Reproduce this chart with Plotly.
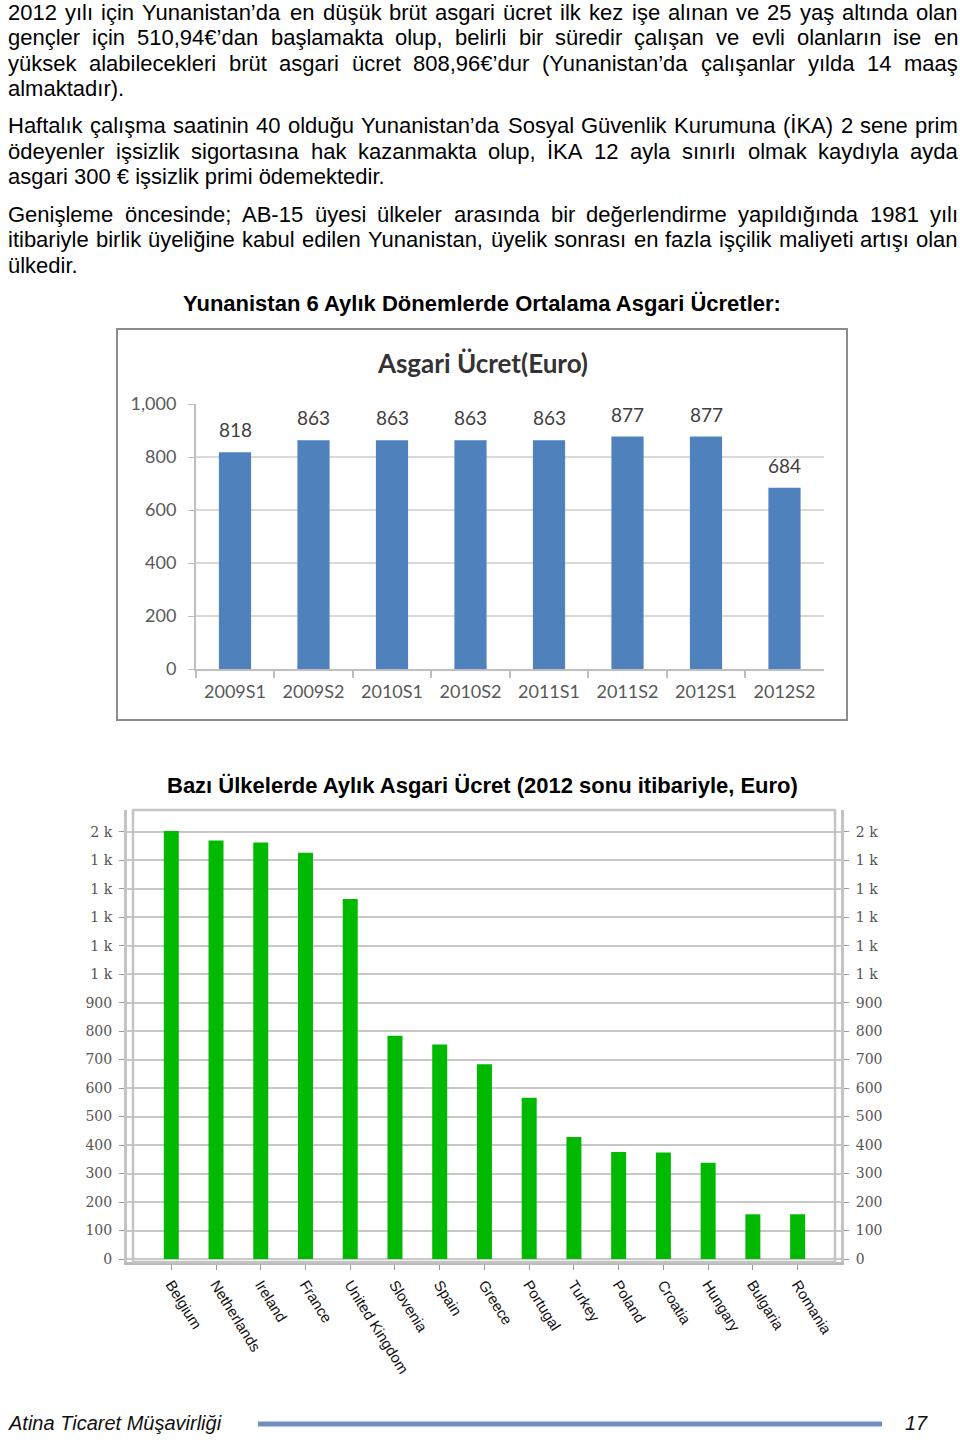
import plotly.graph_objects as go

W, H = 960, 1442

# ---------------- data ----------------
periods = ["2009S1", "2009S2", "2010S1", "2010S2", "2011S1", "2011S2", "2012S1", "2012S2"]
wages_gr = [818, 863, 863, 863, 863, 877, 877, 684]
gr_tickvals = [0, 200, 400, 600, 800, 1000]

countries = ["Belgium", "Netherlands", "Ireland", "France", "United Kingdom", "Slovenia",
             "Spain", "Greece", "Portugal", "Turkey", "Poland", "Croatia", "Hungary",
             "Bulgaria", "Romania"]
wages_eu = [1502, 1469, 1462, 1426, 1264, 784, 753, 684, 566, 428, 376, 374, 338, 157, 157]
eu_tickvals = [0, 100, 200, 300, 400, 500, 600, 700, 800, 900, 1000, 1100, 1200, 1300, 1400, 1500]
eu_ticktext = ["0", "100", "200", "300", "400", "500", "600", "700", "800", "900",
               "1 k", "1 k", "1 k", "1 k", "1 k", "2 k"]

paragraphs = [
    ["2012 yılı için Yunanistan’da en düşük brüt asgari ücret ilk kez işe alınan ve 25 yaş altında olan",
     "gençler için 510,94€’dan başlamakta olup, belirli bir süredir çalışan ve evli olanların ise en",
     "yüksek alabilecekleri brüt asgari ücret 808,96€’dur (Yunanistan’da çalışanlar yılda 14 maaş",
     "almaktadır)."],
    ["Haftalık çalışma saatinin 40 olduğu Yunanistan’da Sosyal Güvenlik Kurumuna (İKA) 2 sene prim",
     "ödeyenler işsizlik sigortasına hak kazanmakta olup, İKA 12 ayla sınırlı olmak kaydıyla ayda",
     "asgari 300 € işsizlik primi ödemektedir."],
    ["Genişleme öncesinde; AB-15 üyesi ülkeler arasında bir değerlendirme yapıldığında 1981 yılı",
     "itibariyle birlik üyeliğine kabul edilen Yunanistan, üyelik sonrası en fazla işçilik maliyeti artışı olan",
     "ülkedir."],
]
para_tops = [12.5, 126.0, 214.5]
heading1 = "Yunanistan 6 Aylık Dönemlerde Ortalama Asgari Ücretler:"
heading2 = "Bazı Ülkelerde Aylık Asgari Ücret (2012 sonu itibariyle, Euro)"
chart1_title = "Asgari Ücret(Euro)"
footer_left = "Atina Ticaret Müşavirliği"
footer_page = "17"


def px(x):
    return x / W


def py(y):
    return 1 - y / H


# Arial / Liberation Sans advance widths (per 1000 em)
AW = {" ": 278, "(": 333, ")": 333, ",": 278, "-": 333, ".": 278, ":": 278, ";": 278,
      "€": 556, "’": 222}
for c in "0123456789":
    AW[c] = 556
AW.update(dict(a=556, b=556, c=500, d=556, e=556, f=278, g=556, h=556, i=222, j=222, k=500,
               l=222, m=833, n=556, o=556, p=556, q=556, r=333, s=500, t=278, u=556, v=500,
               w=722, x=500, y=500, z=500))
AW.update(dict(A=667, B=667, C=722, D=722, E=667, F=611, G=778, H=722, I=278, J=500, K=667,
               L=556, M=833, N=722, O=778, P=667, Q=778, R=722, S=667, T=611, U=722, V=667,
               W=944, X=667, Y=667, Z=611))
AW.update({"ı": 278, "ş": 500, "ğ": 556, "ü": 556, "ö": 556, "ç": 500, "İ": 278, "Ü": 722,
           "Ö": 778, "Ç": 722, "Ş": 667, "Ğ": 778})

FS = 22
TXT_FONT = dict(family="Liberation Sans, Arial", size=FS, color="#000000")


def tw(s):
    return sum(AW.get(ch, 556) for ch in s) / 1000.0 * FS


fig = go.Figure()

annotations = []


def add_line(text, yc, justify, left=7, right=957):
    words = text.split(" ")
    if not justify or len(words) == 1:
        annotations.append(dict(text=text, x=px(left), y=py(yc), xref="paper", yref="paper",
                                xanchor="left", yanchor="middle", showarrow=False,
                                borderpad=0, font=TXT_FONT))
        return
    total = sum(tw(w) for w in words)
    gap = (right - left - total) / (len(words) - 1)
    x = left
    for w in words:
        annotations.append(dict(text=w, x=px(x), y=py(yc), xref="paper", yref="paper",
                                xanchor="left", yanchor="middle", showarrow=False,
                                borderpad=0, font=TXT_FONT))
        x += tw(w) + gap


LH = 25.3
for para, top in zip(paragraphs, para_tops):
    for i, line in enumerate(para):
        add_line(line, top + i * LH, justify=(i < len(para) - 1))

annotations.append(dict(text="<b>" + heading1 + "</b>", x=px(482), y=py(303), xref="paper",
                        yref="paper", xanchor="center", yanchor="middle", showarrow=False,
                        font=TXT_FONT))
annotations.append(dict(text="<b>" + heading2 + "</b>", x=px(482), y=py(785), xref="paper",
                        yref="paper", xanchor="center", yanchor="middle", showarrow=False,
                        font=TXT_FONT))
annotations.append(dict(text="<b>" + chart1_title + "</b>", x=px(482), y=py(363), xref="paper",
                        yref="paper", xanchor="center", yanchor="middle", showarrow=False,
                        font=dict(family="Lato", size=26, color="#333333")))

# footer
annotations.append(dict(text="<i>" + footer_left + "</i>", x=px(6), y=py(1423), xref="paper",
                        yref="paper", xanchor="left", yanchor="middle", showarrow=False,
                        font=dict(family="Liberation Sans, Arial", size=20, color="#111111")))
annotations.append(dict(text="<i>" + footer_page + "</i>", x=px(903), y=py(1423), xref="paper",
                        yref="paper", xanchor="left", yanchor="middle", showarrow=False,
                        font=dict(family="Liberation Sans, Arial", size=20, color="#111111")))

# value labels for chart 1
for p, v in zip(periods, wages_gr):
    annotations.append(dict(text=str(v), x=p, y=v, xref="x", yref="y", yanchor="bottom",
                            yshift=9, showarrow=False,
                            font=dict(family="Lato", size=19, color="#404040")))

# ---------------- traces ----------------
fig.add_trace(go.Bar(x=periods, y=wages_gr, width=0.41, marker=dict(color="#4f81bd", line_width=0),
                     xaxis="x", yaxis="y", hoverinfo="skip"))
fig.add_trace(go.Bar(x=countries, y=wages_eu, width=0.335, marker=dict(color="#00b900", line_width=0),
                     xaxis="x2", yaxis="y2", hoverinfo="skip"))
fig.add_trace(go.Scatter(x=countries, y=wages_eu, mode="markers", marker=dict(opacity=0),
                         xaxis="x2", yaxis="y3", hoverinfo="skip"))

c2_left, c2_right, c2_top, c2_bot = 127, 841, 810, 1262

fig.update_layout(
    width=W, height=H, margin=dict(l=0, r=0, t=0, b=0, autoexpand=False),
    paper_bgcolor="white", plot_bgcolor="rgba(0,0,0,0)", showlegend=False,
    font=dict(family="Liberation Sans, Arial"),
    xaxis=dict(domain=[px(195.75), px(823.75)], anchor="y", type="category", range=[-0.5, 7.5],
               showline=True, linecolor="#bfbfbf", linewidth=2, ticks="outside",
               tickson="boundaries", ticklen=7, tickcolor="#bfbfbf", tickwidth=1.5,
               showgrid=False, ticklabelstandoff=5, automargin=False,
               tickfont=dict(family="Lato", size=18, color="#595959")),
    yaxis=dict(domain=[py(669), py(404)], anchor="x", range=[0, 1000], tickvals=gr_tickvals,
               tickformat=",d", showgrid=True, gridcolor="#d9d9d9", gridwidth=1.5,
               showline=True, linecolor="#bfbfbf", linewidth=1.5, ticks="outside", ticklen=6,
               tickcolor="#bfbfbf", zeroline=False, ticklabelstandoff=8, automargin=False,
               tickfont=dict(family="Lato", size=18, color="#595959")),
    xaxis2=dict(domain=[px(c2_left), px(c2_right)], anchor="y2", type="category",
                range=[-0.99, 14.97], tickangle=58, ticks="outside", ticklen=5,
                tickcolor="#999999", showline=True, linecolor="#bbbbbb", linewidth=3,
                showgrid=False, automargin=False,
                tickfont=dict(family="Liberation Sans, Arial", size=15, color="#111111")),
    yaxis2=dict(domain=[py(c2_bot), py(c2_top)], anchor="x2", range=[-10.5, 1576],
                tickvals=eu_tickvals, ticktext=eu_ticktext, showgrid=True, gridcolor="#c8c8c8",
                gridwidth=1.5, showline=True, linecolor="#c4c4c4", linewidth=3,
                ticks="outside", ticklen=5, tickcolor="#999999", zeroline=False,
                ticklabelstandoff=4, automargin=False,
                tickfont=dict(family="DejaVu Serif", size=14, color="#555555")),
    yaxis3=dict(overlaying="y2", anchor="x2", side="right", range=[-10.5, 1576],
                tickvals=eu_tickvals, ticktext=eu_ticktext, showgrid=False, showline=True,
                linecolor="#c4c4c4", linewidth=3, ticks="outside", ticklen=5,
                tickcolor="#999999", zeroline=False, ticklabelstandoff=4, automargin=False,
                tickfont=dict(family="DejaVu Serif", size=14, color="#555555")),
    annotations=annotations,
    shapes=[
        dict(type="rect", xref="paper", yref="paper", x0=px(117), x1=px(847), y0=py(720),
             y1=py(329), line=dict(color="#8c8c8c", width=2), layer="below"),
        dict(type="rect", xref="paper", yref="paper", x0=px(133), x1=px(835), y0=py(c2_bot),
             y1=py(c2_top), line=dict(color="#c4c4c4", width=2.5), layer="above"),
        dict(type="line", xref="paper", yref="paper", x0=px(258), x1=px(882), y0=py(1424),
             y1=py(1424), line=dict(color="#6f8fc2", width=5)),
    ],
)

fig.write_html("out.html")
